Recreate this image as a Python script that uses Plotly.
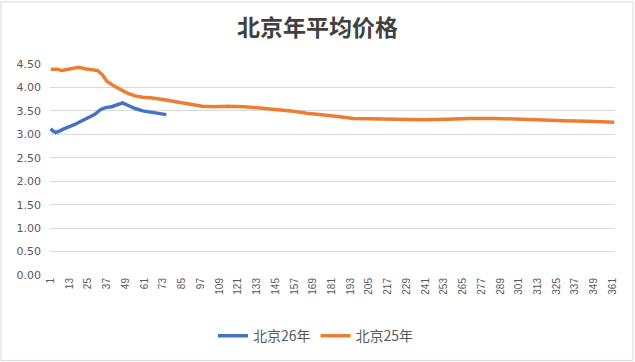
import plotly.graph_objects as go

# ---- data ----
title_text = "北京年平均价格"

series26_name = "北京26年"
series26_days = [1, 2, 4, 6, 9, 13, 17, 21, 25, 29, 33, 36, 40, 44, 47, 51, 55, 60, 65, 70, 75]
series26_vals = [3.12, 3.08, 3.04, 3.06, 3.11, 3.16, 3.22, 3.29, 3.35, 3.42, 3.53, 3.57, 3.59, 3.63, 3.67,
                 3.61, 3.55, 3.50, 3.47, 3.44, 3.42]

series25_name = "北京25年"
series25_days = [1, 5, 8, 12, 16, 19, 23, 28, 31, 34, 37, 41, 45, 50, 55, 60, 65, 70, 75, 82, 90, 98,
                 105, 115, 125, 135, 145, 155, 165, 175, 185, 195, 210, 225, 240, 255, 270, 285, 300,
                 315, 330, 345, 362]
series25_vals = [4.39, 4.39, 4.36, 4.38, 4.41, 4.43, 4.40, 4.37, 4.36, 4.27, 4.13, 4.04, 3.96, 3.88,
                 3.82, 3.79, 3.78, 3.76, 3.73, 3.69, 3.65, 3.60, 3.59, 3.60, 3.59, 3.56, 3.53, 3.50,
                 3.45, 3.42, 3.38, 3.34, 3.33, 3.31, 3.31, 3.32, 3.34, 3.34, 3.32, 3.30, 3.29, 3.28,
                 3.26]

x_tick_vals = list(range(1, 362, 12))
x_tick_text = [str(v) for v in x_tick_vals]
y_tick_vals = [0, 0.5, 1.0, 1.5, 2.0, 2.5, 3.0, 3.5, 4.0, 4.5]
y_tick_text = ["0.00", "0.50", "1.00", "1.50", "2.00", "2.50", "3.00", "3.50", "4.00", "4.50"]
n_categories = 362

fig = go.Figure()
fig.add_trace(go.Scatter(x=series26_days, y=series26_vals, name=series26_name, mode="lines",
                         line=dict(color="#4472C4", width=3.5)))
fig.add_trace(go.Scatter(x=series25_days, y=series25_vals, name=series25_name, mode="lines",
                         line=dict(color="#ED7D31", width=3.5)))

fig.update_layout(
    width=635, height=362,
    margin=dict(l=50, r=20, t=64, b=87, autoexpand=False),
    paper_bgcolor="white", plot_bgcolor="white",
    title=dict(text=title_text, x=0.5, xanchor="center", y=1 - 28 / 362, yanchor="middle",
               font=dict(family="Noto Sans CJK SC", size=23, color="#404040", weight="bold")),
    showlegend=True,
    legend=dict(orientation="h", x=(316 - 50) / 565, xanchor="center", y=-0.29, yanchor="middle",
                font=dict(family="Noto Sans CJK SC", size=14, color="#595959"),
                traceorder="normal"),
    xaxis=dict(range=[0.5, n_categories + 0.5], tickmode="array", tickvals=x_tick_vals,
               ticktext=x_tick_text, tickangle=-90, showgrid=False, zeroline=False,
               showline=False, ticks="", tickfont=dict(family="Liberation Sans", size=10, color="#595959")),
    yaxis=dict(range=[0, 4.5], tickmode="array", tickvals=y_tick_vals, ticktext=y_tick_text,
               showgrid=True, gridcolor="#d9d9d9", gridwidth=1, zeroline=False, showline=False,
               ticks="", ticklabelstandoff=8,
               tickfont=dict(family="DejaVu Sans", size=11, color="#595959")),
)

# chart outer border
fig.add_shape(type="rect", xref="paper", yref="paper",
              x0=(1 - 50) / 565, x1=(633 - 50) / 565,
              y0=(274.7 - 360) / 210.7, y1=(274.7 - 2) / 210.7,
              line=dict(color="#d9d9d9", width=1), fillcolor="rgba(0,0,0,0)", layer="below")

fig.write_html("out.html", config={"displayModeBar": False},
               post_script="document.body.style.margin='0';document.body.style.overflow='hidden';")
